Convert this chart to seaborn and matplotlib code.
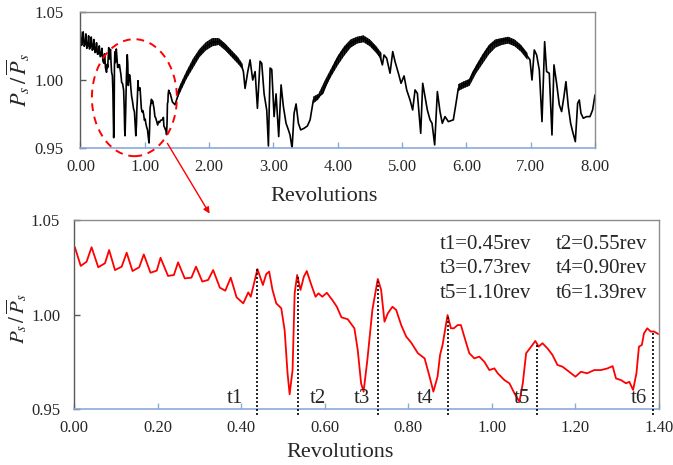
import numpy as np
import pandas as pd
import matplotlib
matplotlib.use("Agg")
import matplotlib.pyplot as plt
import seaborn as sns
from matplotlib.patches import Ellipse, FancyArrowPatch

# ---------------- data ----------------
# zoomed window 0 - 1.4 rev (red curve); also the start of the full record
zoom_rev = [0.002, 0.016, 0.030, 0.042, 0.058, 0.074, 0.084, 0.098, 0.114, 0.126,
            0.140, 0.156, 0.167, 0.183, 0.198, 0.207, 0.225, 0.239, 0.249, 0.265,
            0.281, 0.292, 0.307, 0.321, 0.333, 0.349, 0.362, 0.375, 0.389, 0.405,
            0.417, 0.423, 0.439, 0.452, 0.460, 0.467, 0.475, 0.484, 0.496, 0.504,
            0.511, 0.516, 0.523, 0.528, 0.534, 0.542, 0.550, 0.557, 0.568, 0.578,
            0.585, 0.594, 0.605, 0.618, 0.629, 0.640, 0.655, 0.671, 0.679, 0.687,
            0.693, 0.702, 0.714, 0.727, 0.735, 0.743, 0.751, 0.762, 0.771, 0.783,
            0.795, 0.807, 0.823, 0.839, 0.851, 0.860, 0.870, 0.876, 0.882, 0.894,
            0.902, 0.909, 0.918, 0.926, 0.934, 0.946, 0.958, 0.970, 0.982, 0.994,
            1.006, 1.014, 1.030, 1.042, 1.054, 1.066, 1.074, 1.082, 1.094, 1.104,
            1.112, 1.121, 1.133, 1.145, 1.157, 1.169, 1.185, 1.200, 1.213, 1.228,
            1.245, 1.261, 1.277, 1.289, 1.297, 1.309, 1.321, 1.329, 1.338, 1.346,
            1.352, 1.359, 1.364, 1.372, 1.380, 1.388, 1.398]
zoom_ps = [1.0356, 1.0257, 1.0279, 1.0356, 1.0250, 1.0271, 1.0341, 1.0235, 1.0253, 1.0327,
           1.0230, 1.0250, 1.0318, 1.0221, 1.0232, 1.0300, 1.0204, 1.0209, 1.0276, 1.0191,
           1.0195, 1.0253, 1.0174, 1.0183, 1.0235, 1.0142, 1.0126, 1.0195, 1.0091, 1.0059,
           1.0117, 1.0094, 1.0240, 1.0156, 1.0214, 1.0227, 1.0130, 1.0059, 1.0033, 0.9918,
           0.9689, 0.9578, 0.9706, 1.0112, 1.0209, 1.0130, 1.0200, 1.0230, 1.0156, 1.0094,
           1.0112, 1.0094, 1.0115, 1.0077, 1.0041, 0.9985, 0.9975, 0.9927, 0.9812, 0.9636,
           0.9592, 0.9759, 1.0024, 1.0188, 1.0130, 0.9962, 1.0006, 1.0041, 1.0024, 0.9944,
           0.9883, 0.9851, 0.9795, 0.9768, 0.9671, 0.9592, 0.9671, 0.9786, 0.9839, 0.9997,
           0.9927, 0.9927, 0.9944, 0.9944, 0.9883, 0.9795, 0.9768, 0.9777, 0.9750, 0.9706,
           0.9715, 0.9689, 0.9653, 0.9636, 0.9583, 0.9539, 0.9636, 0.9795, 0.9830, 0.9860,
           0.9830, 0.9848, 0.9821, 0.9786, 0.9733, 0.9724, 0.9697, 0.9671, 0.9697, 0.9689,
           0.9706, 0.9706, 0.9715, 0.9727, 0.9662, 0.9653, 0.9636, 0.9644, 0.9601, 0.9689,
           0.9830, 0.9839, 0.9900, 0.9927, 0.9910, 0.9910, 0.9897]

# rest of the full record 1.43 - 8.0 rev (black curve, centre line)
full_rev = [1.43, 1.47, 1.55, 1.65, 1.75, 1.85, 1.95, 2.05, 2.15, 2.25,
            2.35, 2.45, 2.51, 2.533, 2.559, 2.601, 2.637, 2.678, 2.715, 2.751,
            2.792, 2.818, 2.855, 2.896, 2.922, 2.948, 2.974, 3.010, 3.041, 3.082,
            3.119, 3.155, 3.196, 3.233, 3.258, 3.290, 3.321, 3.352, 3.388, 3.424,
            3.476, 3.528, 3.570, 3.621, 3.699, 3.766, 3.828, 3.906, 3.984, 4.087,
            4.191, 4.295, 4.373, 4.424, 4.528, 4.606, 4.658, 4.694, 4.720, 4.761,
            4.813, 4.855, 4.891, 4.943, 4.984, 5.031, 5.072, 5.124, 5.165, 5.202,
            5.238, 5.290, 5.321, 5.357, 5.393, 5.435, 5.466, 5.507, 5.549, 5.590,
            5.626, 5.668, 5.720, 5.797, 5.839, 5.875, 5.953, 6.031, 6.108, 6.212,
            6.316, 6.419, 6.523, 6.626, 6.730, 6.834, 6.911, 6.989, 7.020, 7.056,
            7.093, 7.134, 7.176, 7.217, 7.248, 7.289, 7.331, 7.362, 7.403, 7.445,
            7.481, 7.517, 7.548, 7.585, 7.621, 7.652, 7.694, 7.730, 7.756, 7.782,
            7.818, 7.870, 7.922, 7.963, 8.000]
full_ps = [0.9840, 0.9820, 0.9940, 1.0040, 1.0125, 1.0200, 1.0250, 1.0280, 1.0285, 1.0245,
           1.0195, 1.0145, 1.0100, 1.0064, 0.9940, 1.0064, 1.0150, 1.0002, 1.0064, 0.9794,
           1.0140, 1.0125, 0.9900, 0.9780, 0.9517, 1.0090, 1.0080, 0.9733, 0.9900, 0.9586,
           0.9966, 0.9806, 0.9684, 0.9635, 0.9598, 0.9500, 0.9757, 0.9826, 0.9684, 0.9635,
           0.9647, 0.9664, 0.9709, 0.9855, 0.9880, 0.9904, 0.9978, 1.0064, 1.0150, 1.0223,
           1.0270, 1.0296, 1.0310, 1.0300, 1.0260, 1.0223, 1.0174, 1.0113, 1.0186, 1.0162,
           1.0052, 1.0211, 1.0137, 1.0052, 0.9978, 1.0032, 0.9929, 0.9855, 0.9782, 0.9929,
           0.9904, 0.9610, 0.9978, 0.9880, 0.9782, 0.9709, 0.9684, 0.9525, 0.9917, 0.9770,
           0.9684, 0.9733, 0.9696, 0.9709, 0.9831, 0.9941, 0.9966, 0.9983, 1.0064, 1.0137,
           1.0223, 1.0272, 1.0290, 1.0300, 1.0277, 1.0247, 1.0203, 1.0150, 1.0002, 1.0223,
           1.0186, 1.0076, 0.9696, 1.0284, 1.0064, 1.0052, 0.9598, 1.0113, 0.9978, 0.9819,
           0.9770, 0.9880, 0.9990, 0.9806, 0.9684, 0.9623, 0.9549, 0.9831, 0.9855, 0.9757,
           0.9721, 0.9733, 0.9733, 0.9782, 0.9892]

# blade-passing ripple band on the smooth humps of the full record
band_rev = [1.50, 1.55, 1.65, 1.75, 1.85, 1.95, 2.05, 2.15, 2.25, 2.35, 2.45, 2.52]
band_lo = [0.986, 0.991, 1.001, 1.009, 1.017, 1.022, 1.025, 1.026, 1.022, 1.017, 1.012, 1.008]
band_hi = [0.991, 0.997, 1.007, 1.016, 1.023, 1.028, 1.031, 1.031, 1.027, 1.022, 1.017, 1.012]
band2_rev = [3.62, 3.70, 3.80, 3.90, 4.00, 4.10, 4.20, 4.30, 4.40, 4.50, 4.60, 4.68]
band2_lo = [0.983, 0.986, 0.994, 1.003, 1.011, 1.018, 1.024, 1.027, 1.028, 1.025, 1.020, 1.015]
band2_hi = [0.988, 0.990, 1.000, 1.009, 1.018, 1.025, 1.030, 1.032, 1.033, 1.030, 1.025, 1.020]
band3_rev = [5.87, 5.95, 6.05, 6.15, 6.25, 6.35, 6.45, 6.55, 6.65, 6.75, 6.85, 6.95]
band3_lo = [0.992, 0.994, 0.996, 1.005, 1.012, 1.019, 1.024, 1.026, 1.027, 1.025, 1.021, 1.015]
band3_hi = [0.997, 0.999, 1.001, 1.011, 1.019, 1.026, 1.030, 1.031, 1.032, 1.030, 1.026, 1.020]

# marked instants t1..t6 (dotted lines) and the legend text
t_names = ["t1", "t2", "t3", "t4", "t5", "t6"]
t_rev = [0.439, 0.537, 0.727, 0.894, 1.109, 1.385]
t_top = [1.0240, 1.0209, 1.0188, 0.9997, 0.9840, 0.9910]
t_label_x = [0.384, 0.583, 0.690, 0.841, 1.072, 1.351]
legend_lines = [("t1=0.45rev", "t2=0.55rev"),
                ("t3=0.73rev", "t4=0.90rev"),
                ("t5=1.10rev", "t6=1.39rev")]

top_xticks = [0, 1, 2, 3, 4, 5, 6, 7, 8]
bot_xticks = [0.0, 0.2, 0.4, 0.6, 0.8, 1.0, 1.2, 1.4]
yticks = [0.95, 1.00, 1.05]

# ---------------- style ----------------
sns.set_theme(style="white")
plt.rcParams["font.family"] = ["Liberation Serif", "DejaVu Serif"]
plt.rcParams["mathtext.fontset"] = "stix"
plt.rcParams["hatch.linewidth"] = 1.2

AXBLUE = "#8EA9DB"
SPINE = "#8C8C8C"

fig = plt.figure(figsize=(6.73, 4.65), dpi=100)
ax1 = fig.add_axes([0.1196, 0.6811, 0.7645, 0.2925])
ax2 = fig.add_axes([0.1100, 0.1204, 0.8692, 0.4065])

# ---------------- top panel ----------------
df_full = pd.DataFrame({"rev": zoom_rev + full_rev, "ps": zoom_ps + full_ps})
sns.lineplot(data=df_full, x="rev", y="ps", ax=ax1, color="black", lw=1.2,
             estimator=None, sort=False)
for br, bl, bh in [(band_rev, band_lo, band_hi),
                   (band2_rev, band2_lo, band2_hi),
                   (band3_rev, band3_lo, band3_hi)]:
    ax1.fill_between(br, bl, bh, facecolor="#4a4a4a", edgecolor="black",
                     hatch="||||||||", linewidth=0)

ax1.set_xlim(0, 8)
ax1.set_ylim(0.95, 1.05)
ax1.set_xticks(top_xticks)
ax1.set_xticklabels([f"{v:.2f}" for v in top_xticks])
ax1.set_yticks(yticks)
ax1.set_yticklabels([f"{v:.2f}" for v in yticks])
ax1.set_xlabel("Revolutions", fontsize=16)
ax1.xaxis.set_label_coords(0.474, -0.285)
ax1.set_ylabel(r"$P_s\,/\,\overline{P}_s$", fontsize=16)
ax1.yaxis.set_label_coords(-0.094, 0.5)

ell = Ellipse((0.838, 0.9872), 1.321, 0.086, fill=False, edgecolor="red",
              linestyle=(0, (4, 3)), lw=1.4, clip_on=False, zorder=5)
ax1.add_patch(ell)

# ---------------- bottom panel ----------------
df_zoom = pd.DataFrame({"rev": zoom_rev, "ps": zoom_ps})
sns.lineplot(data=df_zoom, x="rev", y="ps", ax=ax2, color="red", lw=1.3,
             estimator=None, sort=False)
ax2.vlines(t_rev, 0.9468, t_top, colors="black", linestyles=(0, (1.2, 1.2)),
           lw=1.2, clip_on=False, zorder=3)
for name, lx in zip(t_names, t_label_x):
    ax2.text(lx, 0.9532, name, fontsize=15, ha="center", va="baseline")
for i, (a, b) in enumerate(legend_lines):
    yy = 1.0347 - i * 0.0130
    ax2.text(0.876, yy, a, fontsize=15, ha="left", va="baseline")
    ax2.text(1.153, yy, b, fontsize=15, ha="left", va="baseline")

ax2.set_xlim(0, 1.4)
ax2.set_ylim(0.95, 1.05)
ax2.set_xticks(bot_xticks)
ax2.set_xticklabels([f"{v:.2f}" for v in bot_xticks])
ax2.set_yticks(yticks)
ax2.set_yticklabels([f"{v:.2f}" for v in yticks])
ax2.set_xlabel("Revolutions", fontsize=16)
ax2.xaxis.set_label_coords(0.455, -0.18)
ax2.set_ylabel(r"$P_s\,/\,\overline{P}_s$", fontsize=15)
ax2.yaxis.set_label_coords(-0.077, 0.48)

for ax in (ax1, ax2):
    for side in ("top", "right"):
        ax.spines[side].set_color(SPINE)
        ax.spines[side].set_linewidth(1.0)
    ax.spines["left"].set_color("#595959")
    ax.spines["left"].set_linewidth(1.0)
    ax.spines["bottom"].set_color(AXBLUE)
    ax.spines["bottom"].set_linewidth(1.2)
    ax.tick_params(axis="x", direction="in", length=4, width=1, color=AXBLUE,
                   labelsize=12, pad=8, bottom=True)
    ax.tick_params(axis="y", direction="in", length=4, width=1, color="#595959",
                   labelsize=12, pad=12, left=True)
    ax.grid(False)
ax2.tick_params(axis="y", pad=10)

# arrow from the ellipse to the zoomed panel
arrow = FancyArrowPatch((166 / 673, 1 - 141 / 465), (211 / 673, 1 - 216 / 465),
                        transform=fig.transFigure, arrowstyle="-|>",
                        mutation_scale=9, color="red", lw=1.0)
fig.add_artist(arrow)

fig.savefig("out.png", dpi=100)
